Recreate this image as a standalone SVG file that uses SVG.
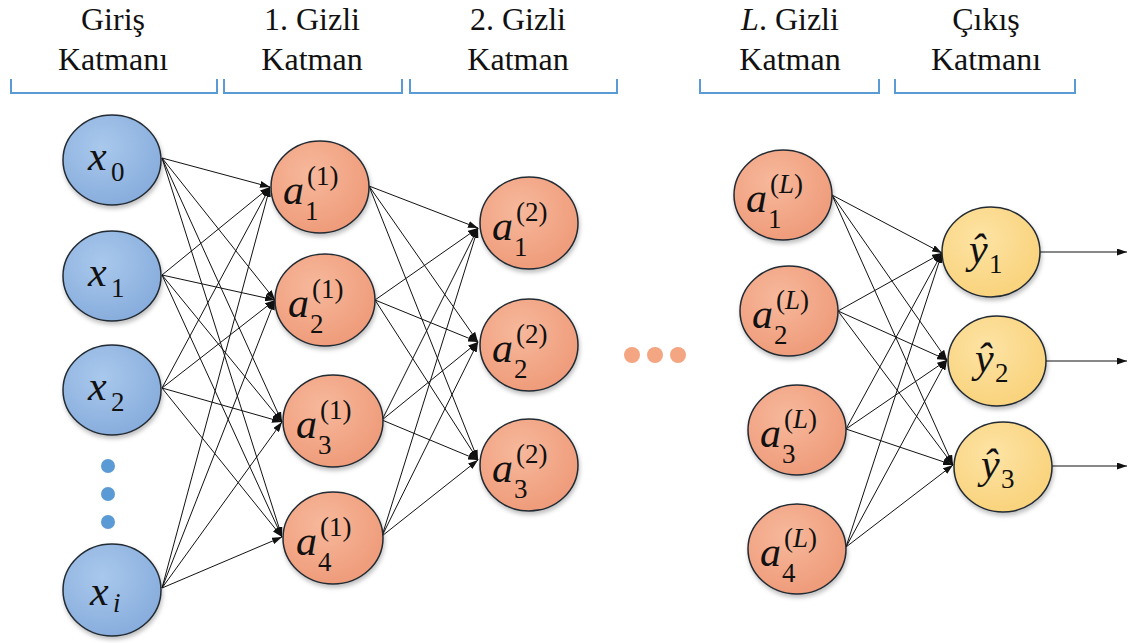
<svg xmlns="http://www.w3.org/2000/svg" width="1142" height="643" viewBox="0 0 1142 643">
<defs>
<radialGradient id="gBlue" cx="0.4" cy="0.35" r="0.7"><stop offset="0" stop-color="#a9c8ec"/><stop offset="1" stop-color="#86acdc"/></radialGradient>
<radialGradient id="gOrange" cx="0.4" cy="0.35" r="0.7"><stop offset="0" stop-color="#f7b89c"/><stop offset="1" stop-color="#ee9a78"/></radialGradient>
<radialGradient id="gYellow" cx="0.4" cy="0.35" r="0.7"><stop offset="0" stop-color="#fde3a4"/><stop offset="1" stop-color="#f9d27a"/></radialGradient>
<filter id="sh" x="-20%" y="-20%" width="140%" height="150%"><feDropShadow dx="1" dy="3" stdDeviation="2" flood-color="#000" flood-opacity="0.25"/></filter>
<marker id="ah" markerUnits="userSpaceOnUse" markerWidth="10" markerHeight="7" refX="10" refY="3.5" orient="auto"><path d="M0,0 L10,3.5 L0,7 z" fill="#111"/></marker>
</defs>
<rect width="1142" height="643" fill="#fff"/>

<g id="headers" fill="#111">
<text font-family="Liberation Serif" font-size="32" text-anchor="middle" x="113" y="30">Giriş</text>
<text font-family="Liberation Serif" font-size="32" text-anchor="middle" x="113" y="70">Katmanı</text>
<text font-family="Liberation Serif" font-size="32" text-anchor="middle" x="312" y="30">1. Gizli</text>
<text font-family="Liberation Serif" font-size="32" text-anchor="middle" x="312" y="70">Katman</text>
<text font-family="Liberation Serif" font-size="32" text-anchor="middle" x="518" y="30">2. Gizli</text>
<text font-family="Liberation Serif" font-size="32" text-anchor="middle" x="518" y="70">Katman</text>
<text font-family="Liberation Serif" font-size="32" text-anchor="middle" x="790" y="30"><tspan font-style="italic">L</tspan>. Gizli</text>
<text font-family="Liberation Serif" font-size="32" text-anchor="middle" x="790" y="70">Katman</text>
<text font-family="Liberation Serif" font-size="32" text-anchor="middle" x="986" y="30">Çıkış</text>
<text font-family="Liberation Serif" font-size="32" text-anchor="middle" x="986" y="70">Katmanı</text>
</g>
<g id="brackets" fill="none" stroke="#5b9bd5" stroke-width="2">
<path d="M11,79 V93 H217 V79"/>
<path d="M224,79 V93 H402 V79"/>
<path d="M410,79 V93 H617 V79"/>
<path d="M700,79 V93 H879 V79"/>
<path d="M895,79 V93 H1075 V79"/>
</g>

<g id="connectors" stroke="#111" stroke-width="1" fill="none">
<line marker-end="url(#ah)" x1="162" y1="158" x2="270" y2="187"/>
<line marker-end="url(#ah)" x1="162" y1="158" x2="275" y2="300"/>
<line marker-end="url(#ah)" x1="162" y1="158" x2="282" y2="422"/>
<line marker-end="url(#ah)" x1="162" y1="158" x2="282" y2="537"/>
<line marker-end="url(#ah)" x1="162" y1="275" x2="270" y2="187"/>
<line marker-end="url(#ah)" x1="162" y1="275" x2="275" y2="300"/>
<line marker-end="url(#ah)" x1="162" y1="275" x2="282" y2="422"/>
<line marker-end="url(#ah)" x1="162" y1="275" x2="282" y2="537"/>
<line marker-end="url(#ah)" x1="162" y1="388" x2="270" y2="187"/>
<line marker-end="url(#ah)" x1="162" y1="388" x2="275" y2="300"/>
<line marker-end="url(#ah)" x1="162" y1="388" x2="282" y2="422"/>
<line marker-end="url(#ah)" x1="162" y1="388" x2="282" y2="537"/>
<line marker-end="url(#ah)" x1="162" y1="588" x2="270" y2="187"/>
<line marker-end="url(#ah)" x1="162" y1="588" x2="275" y2="300"/>
<line marker-end="url(#ah)" x1="162" y1="588" x2="282" y2="422"/>
<line marker-end="url(#ah)" x1="162" y1="588" x2="282" y2="537"/>
<line marker-end="url(#ah)" x1="369" y1="186" x2="478" y2="228"/>
<line marker-end="url(#ah)" x1="369" y1="186" x2="478" y2="342"/>
<line marker-end="url(#ah)" x1="369" y1="186" x2="478" y2="460"/>
<line marker-end="url(#ah)" x1="375" y1="300" x2="478" y2="228"/>
<line marker-end="url(#ah)" x1="375" y1="300" x2="478" y2="342"/>
<line marker-end="url(#ah)" x1="375" y1="300" x2="478" y2="460"/>
<line marker-end="url(#ah)" x1="382" y1="420" x2="478" y2="228"/>
<line marker-end="url(#ah)" x1="382" y1="420" x2="478" y2="342"/>
<line marker-end="url(#ah)" x1="382" y1="420" x2="478" y2="460"/>
<line marker-end="url(#ah)" x1="382" y1="536" x2="478" y2="228"/>
<line marker-end="url(#ah)" x1="382" y1="536" x2="478" y2="342"/>
<line marker-end="url(#ah)" x1="382" y1="536" x2="478" y2="460"/>
<line marker-end="url(#ah)" x1="832" y1="195" x2="942" y2="253"/>
<line marker-end="url(#ah)" x1="832" y1="195" x2="947" y2="360"/>
<line marker-end="url(#ah)" x1="832" y1="195" x2="953" y2="465"/>
<line marker-end="url(#ah)" x1="838" y1="311" x2="942" y2="253"/>
<line marker-end="url(#ah)" x1="838" y1="311" x2="947" y2="360"/>
<line marker-end="url(#ah)" x1="838" y1="311" x2="953" y2="465"/>
<line marker-end="url(#ah)" x1="846" y1="429" x2="942" y2="253"/>
<line marker-end="url(#ah)" x1="846" y1="429" x2="947" y2="360"/>
<line marker-end="url(#ah)" x1="846" y1="429" x2="953" y2="465"/>
<line marker-end="url(#ah)" x1="846" y1="547" x2="942" y2="253"/>
<line marker-end="url(#ah)" x1="846" y1="547" x2="947" y2="360"/>
<line marker-end="url(#ah)" x1="846" y1="547" x2="953" y2="465"/>
<line marker-end="url(#ah)" x1="1040" y1="252" x2="1127" y2="252"/>
<line marker-end="url(#ah)" x1="1046" y1="361" x2="1127" y2="361"/>
<line marker-end="url(#ah)" x1="1052" y1="466" x2="1127" y2="466"/>
</g>

<g id="x0" fill="#111"><ellipse fill="url(#gBlue)" stroke="#222a33" stroke-width="1.5" filter="url(#sh)" cx="112" cy="160" rx="49" ry="45"/><text font-family="Liberation Serif" font-style="italic" font-size="42" x="88" y="170">x</text><text font-family="Liberation Serif" font-size="27" x="111" y="181">0</text></g>
<g id="x1" fill="#111"><ellipse fill="url(#gBlue)" stroke="#222a33" stroke-width="1.5" filter="url(#sh)" cx="112" cy="276" rx="49" ry="45"/><text font-family="Liberation Serif" font-style="italic" font-size="42" x="88" y="286">x</text><text font-family="Liberation Serif" font-size="27" x="111" y="297">1</text></g>
<g id="x2" fill="#111"><ellipse fill="url(#gBlue)" stroke="#222a33" stroke-width="1.5" filter="url(#sh)" cx="112" cy="390" rx="49" ry="45"/><text font-family="Liberation Serif" font-style="italic" font-size="42" x="88" y="400">x</text><text font-family="Liberation Serif" font-size="27" x="111" y="411">2</text></g>
<g id="input-dots" fill="#5b9bd5"><circle cx="108" cy="466" r="7"/><circle cx="108" cy="494" r="7"/><circle cx="108" cy="522" r="7"/></g>
<g id="xi" fill="#111"><ellipse fill="url(#gBlue)" stroke="#222a33" stroke-width="1.5" filter="url(#sh)" cx="112" cy="590" rx="49" ry="46"/><text font-family="Liberation Serif" font-style="italic" font-size="42" x="90" y="605">x</text><text font-family="Liberation Serif" font-style="italic" font-size="27" x="113" y="612">i</text></g>

<g id="a1_1" fill="#111"><ellipse fill="url(#gOrange)" stroke="#222a33" stroke-width="1.5" filter="url(#sh)" cx="320" cy="187" rx="49" ry="46"/><text font-family="Liberation Serif" font-style="italic" font-size="42" x="283" y="204">a</text><text font-family="Liberation Serif" font-size="27" x="305" y="220">1</text><text font-family="Liberation Serif" font-size="27" x="307" y="185">(1)</text></g>
<g id="a2_1" fill="#111"><ellipse fill="url(#gOrange)" stroke="#222a33" stroke-width="1.5" filter="url(#sh)" cx="325" cy="300" rx="50" ry="46"/><text font-family="Liberation Serif" font-style="italic" font-size="42" x="288" y="317">a</text><text font-family="Liberation Serif" font-size="27" x="310" y="333">2</text><text font-family="Liberation Serif" font-size="27" x="312" y="298">(1)</text></g>
<g id="a3_1" fill="#111"><ellipse fill="url(#gOrange)" stroke="#222a33" stroke-width="1.5" filter="url(#sh)" cx="333" cy="421" rx="50" ry="46"/><text font-family="Liberation Serif" font-style="italic" font-size="42" x="296" y="438">a</text><text font-family="Liberation Serif" font-size="27" x="318" y="454">3</text><text font-family="Liberation Serif" font-size="27" x="320" y="419">(1)</text></g>
<g id="a4_1" fill="#111"><ellipse fill="url(#gOrange)" stroke="#222a33" stroke-width="1.5" filter="url(#sh)" cx="333" cy="538" rx="50" ry="46"/><text font-family="Liberation Serif" font-style="italic" font-size="42" x="296" y="555">a</text><text font-family="Liberation Serif" font-size="27" x="318" y="571">4</text><text font-family="Liberation Serif" font-size="27" x="320" y="536">(1)</text></g>

<g id="a1_2" fill="#111"><ellipse fill="url(#gOrange)" stroke="#222a33" stroke-width="1.5" filter="url(#sh)" cx="529" cy="223" rx="49" ry="46"/><text font-family="Liberation Serif" font-style="italic" font-size="42" x="492" y="240">a</text><text font-family="Liberation Serif" font-size="27" x="514" y="256">1</text><text font-family="Liberation Serif" font-size="27" x="516" y="221">(2)</text></g>
<g id="a2_2" fill="#111"><ellipse fill="url(#gOrange)" stroke="#222a33" stroke-width="1.5" filter="url(#sh)" cx="529" cy="345" rx="49" ry="46"/><text font-family="Liberation Serif" font-style="italic" font-size="42" x="492" y="362">a</text><text font-family="Liberation Serif" font-size="27" x="514" y="378">2</text><text font-family="Liberation Serif" font-size="27" x="516" y="343">(2)</text></g>
<g id="a3_2" fill="#111"><ellipse fill="url(#gOrange)" stroke="#222a33" stroke-width="1.5" filter="url(#sh)" cx="529" cy="465" rx="49" ry="46"/><text font-family="Liberation Serif" font-style="italic" font-size="42" x="492" y="482">a</text><text font-family="Liberation Serif" font-size="27" x="514" y="498">3</text><text font-family="Liberation Serif" font-size="27" x="516" y="463">(2)</text></g>

<g id="mid-dots" fill="#f4a582"><circle cx="632" cy="355" r="8"/><circle cx="655" cy="355" r="8"/><circle cx="678" cy="355" r="8"/></g>

<g id="a1_L" fill="#111"><ellipse fill="url(#gOrange)" stroke="#222a33" stroke-width="1.5" filter="url(#sh)" cx="783" cy="195" rx="49" ry="45"/><text font-family="Liberation Serif" font-style="italic" font-size="42" x="746" y="212">a</text><text font-family="Liberation Serif" font-size="27" x="768" y="228">1</text><text font-family="Liberation Serif" font-size="27" x="770" y="193">(<tspan font-style="italic">L</tspan>)</text></g>
<g id="a2_L" fill="#111"><ellipse fill="url(#gOrange)" stroke="#222a33" stroke-width="1.5" filter="url(#sh)" cx="789" cy="311" rx="49" ry="45"/><text font-family="Liberation Serif" font-style="italic" font-size="42" x="752" y="328">a</text><text font-family="Liberation Serif" font-size="27" x="774" y="344">2</text><text font-family="Liberation Serif" font-size="27" x="776" y="309">(<tspan font-style="italic">L</tspan>)</text></g>
<g id="a3_L" fill="#111"><ellipse fill="url(#gOrange)" stroke="#222a33" stroke-width="1.5" filter="url(#sh)" cx="797" cy="430" rx="49" ry="45"/><text font-family="Liberation Serif" font-style="italic" font-size="42" x="760" y="447">a</text><text font-family="Liberation Serif" font-size="27" x="782" y="463">3</text><text font-family="Liberation Serif" font-size="27" x="784" y="428">(<tspan font-style="italic">L</tspan>)</text></g>
<g id="a4_L" fill="#111"><ellipse fill="url(#gOrange)" stroke="#222a33" stroke-width="1.5" filter="url(#sh)" cx="797" cy="549" rx="49" ry="45"/><text font-family="Liberation Serif" font-style="italic" font-size="42" x="760" y="566">a</text><text font-family="Liberation Serif" font-size="27" x="782" y="582">4</text><text font-family="Liberation Serif" font-size="27" x="784" y="547">(<tspan font-style="italic">L</tspan>)</text></g>

<g id="y1" fill="#111"><ellipse fill="url(#gYellow)" stroke="#222a33" stroke-width="1.5" filter="url(#sh)" cx="991" cy="252" rx="49" ry="45"/><text font-family="Liberation Serif" font-style="italic" font-size="42" x="969" y="263">ŷ</text><text font-family="Liberation Serif" font-size="27" x="989" y="273">1</text></g>
<g id="y2" fill="#111"><ellipse fill="url(#gYellow)" stroke="#222a33" stroke-width="1.5" filter="url(#sh)" cx="997" cy="361" rx="49" ry="45"/><text font-family="Liberation Serif" font-style="italic" font-size="42" x="975" y="372">ŷ</text><text font-family="Liberation Serif" font-size="27" x="995" y="382">2</text></g>
<g id="y3" fill="#111"><ellipse fill="url(#gYellow)" stroke="#222a33" stroke-width="1.5" filter="url(#sh)" cx="1003" cy="467" rx="49" ry="45"/><text font-family="Liberation Serif" font-style="italic" font-size="42" x="981" y="478">ŷ</text><text font-family="Liberation Serif" font-size="27" x="1001" y="488">3</text></g>
</svg>
